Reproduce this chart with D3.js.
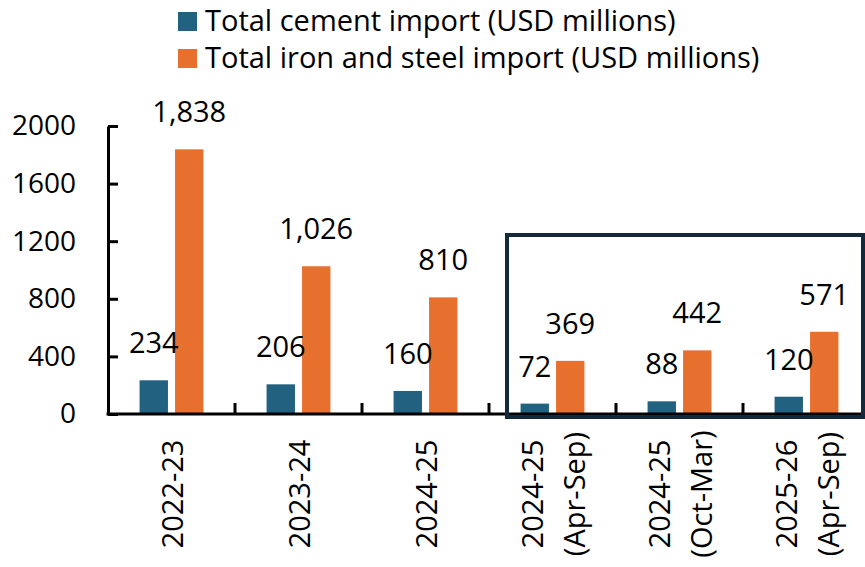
<!DOCTYPE html>
<html>
<head>
<meta charset="utf-8">
<script src="https://cdn.jsdelivr.net/npm/d3@7.9.0/dist/d3.min.js"></script>
<style>
  body { margin: 0; background: #fff; }
  svg { display: block; font-family: "Open Sans", sans-serif; }
</style>
</head>
<body>
<svg id="chart" width="865" height="567"></svg>
<script>
const categories = [
  ["2022-23"],
  ["2023-24"],
  ["2024-25"],
  ["2024-25", "(Apr-Sep)"],
  ["2024-25", "(Oct-Mar)"],
  ["2025-26", "(Apr-Sep)"]
];
const cement = [234, 206, 160, 72, 88, 120];
const steel = [1838, 1026, 810, 369, 442, 571];
const seriesNames = ["Total cement import (USD millions)", "Total iron and steel import (USD millions)"];
const yTicks = [0, 400, 800, 1200, 1600, 2000];

const colors = ["#22617f", "#e8702f"];
const fontSize = 29;

const svg = d3.select("#chart");
const plotLeft = 108, plotRight = 870, plotTop = 126, plotBottom = 414;

const x = d3.scaleBand().domain(d3.range(categories.length)).range([plotLeft, plotRight]);
const x1 = d3.scaleBand().domain([0, 1]).range([0, x.bandwidth()])
  .paddingInner(0.2).paddingOuter(0.89);
const y = d3.scaleLinear().domain([0, 2000]).range([plotBottom, plotTop]);

const rows = categories.map((c, i) => ({ i, vals: [cement[i], steel[i]] }));

// bars
const groups = svg.append("g").selectAll("g")
  .data(rows).join("g")
  .attr("transform", d => `translate(${x(d.i)},0)`);

groups.selectAll("rect")
  .data(d => d.vals.map((v, s) => ({ v, s })))
  .join("rect")
  .attr("x", d => x1(d.s))
  .attr("width", x1.bandwidth())
  .attr("y", d => y(d.v))
  .attr("height", d => y(0) - y(d.v))
  .attr("fill", d => colors[d.s]);

// value labels
groups.selectAll("text")
  .data(d => d.vals.map((v, s) => ({ v, s })))
  .join("text")
  .attr("x", d => x1(d.s) + x1.bandwidth() / 2)
  .attr("y", d => y(d.v) - 27)
  .attr("text-anchor", "middle")
  .attr("font-size", fontSize)
  .attr("fill", "#000")
  .text(d => d3.format(",")(d.v));

// y axis
const yAxis = svg.append("g")
  .attr("transform", `translate(${plotLeft},0)`)
  .call(d3.axisLeft(y).tickValues(yTicks).tickFormat(d3.format("d"))
    .tickSizeInner(-10).tickSizeOuter(0).tickPadding(32));
yAxis.select(".domain").attr("stroke", "#000").attr("stroke-width", 3);
yAxis.selectAll(".tick line").attr("stroke", "#000").attr("stroke-width", 3);
yAxis.selectAll(".tick text")
  .attr("font-size", 28).attr("font-family", "Open Sans").attr("fill", "#000");

// x axis line and band ticks
svg.append("line")
  .attr("x1", plotLeft - 1.5).attr("x2", plotRight)
  .attr("y1", y(0)).attr("y2", y(0))
  .attr("stroke", "#000").attr("stroke-width", 3);

svg.append("g").selectAll("line")
  .data(d3.range(1, categories.length)).join("line")
  .attr("x1", d => x(d)).attr("x2", d => x(d))
  .attr("y1", y(0)).attr("y2", y(0) - 11)
  .attr("stroke", "#000").attr("stroke-width", 3);

// x labels, rotated
const labelY = 494;
const xl = svg.append("g").selectAll("g")
  .data(categories.map((c, i) => ({ c, i }))).join("g")
  .attr("transform", d => `translate(${x(d.i) + x.bandwidth() / 2},${labelY}) rotate(-90)`);

xl.each(function (d) {
  const g = d3.select(this);
  const n = d.c.length;
  d.c.forEach((line, k) => {
    const off = n === 1 ? 1.5 : (k === 0 ? -20 : 22);
    g.append("text")
      .attr("x", 0)
      .attr("y", off + 10)
      .attr("text-anchor", "middle")
      .attr("font-size", fontSize)
      .attr("fill", "#000")
      .text(line);
  });
});

// highlight box around half-year periods
svg.append("rect")
  .attr("x", x(3) + 18)
  .attr("y", 235)
  .attr("width", 863 - (x(3) + 18))
  .attr("height", 182)
  .attr("fill", "none")
  .attr("stroke", "#14293a")
  .attr("stroke-width", 4);

// legend
const legend = svg.append("g").selectAll("g")
  .data(seriesNames).join("g")
  .attr("transform", (d, i) => `translate(178,${12 + i * 37})`);
legend.append("rect")
  .attr("width", 19).attr("height", 19)
  .attr("fill", (d, i) => colors[i]);
legend.append("text")
  .attr("x", 27).attr("y", 19)
  .attr("font-size", fontSize)
  .attr("fill", "#000")
  .text(d => d);
</script>
</body>
</html>
